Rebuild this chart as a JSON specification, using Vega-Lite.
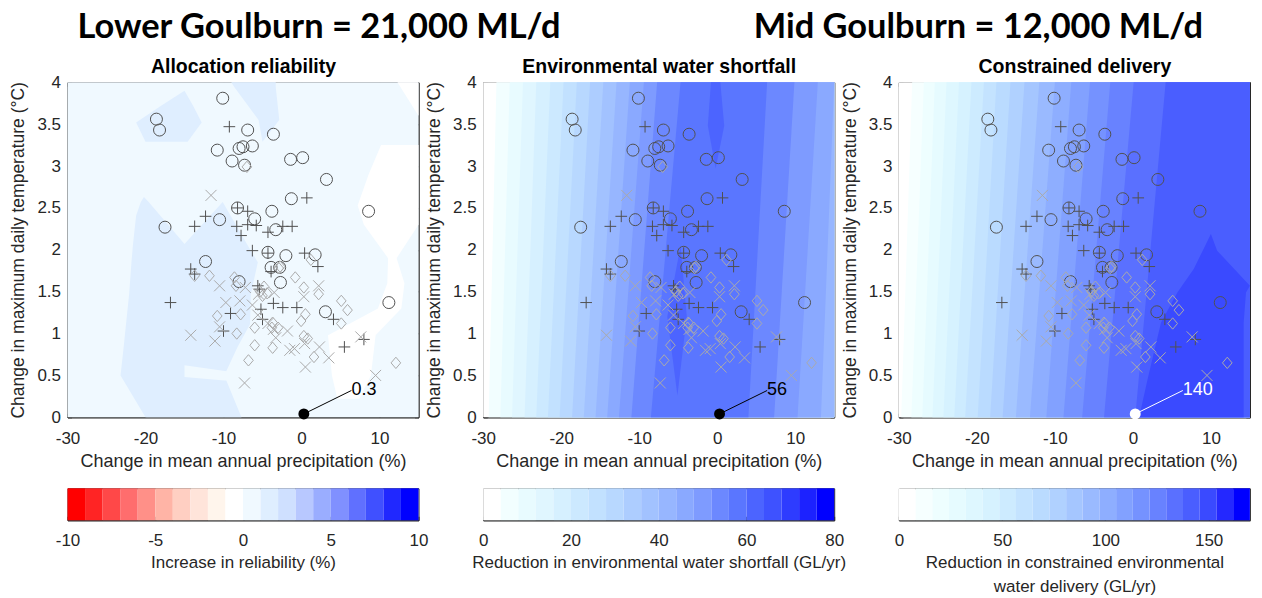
{
"$schema": "https://vega.github.io/schema/vega-lite/v6.json",
"padding": {"left": 8.5, "top": 9.3, "right": 5, "bottom": 2},
"bounds": "flush",
"columns": 3,
"align": "each",
"spacing": {"row": 71, "column": 64.7},
"resolve": {"scale": {"color": "independent", "stroke": "independent", "shape": "independent", "size": "independent"}},
"config": {
  "font": "Liberation Sans",
  "view": {"stroke": "#262626", "strokeWidth": 1},
  "axis": {"labelFont": "Liberation Sans", "titleFont": "Liberation Sans", "labelColor": "#262626", "titleColor": "#262626", "titleFontWeight": "normal", "grid": false, "domainColor": "#262626", "tickColor": "#262626", "labelFontSize": 17, "titleFontSize": 18, "labelFlush": false, "labelOverlap": false}
},
"datasets": {
  "pts": [
    {"x":-18.6,"y":3.56,"t":"c"},{"x":-18.2,"y":3.43,"t":"c"},{"x":-10.1,"y":3.81,"t":"c"},{"x":-6.9,"y":3.43,"t":"c"},{"x":-3.6,"y":3.38,"t":"c"},{"x":-10.8,"y":3.19,"t":"c"},{"x":-8.0,"y":3.21,"t":"c"},{"x":-7.5,"y":3.23,"t":"c"},{"x":-6.3,"y":3.24,"t":"c"},{"x":-8.9,"y":3.06,"t":"c"},{"x":-7.3,"y":3.01,"t":"c"},{"x":-1.4,"y":3.08,"t":"c"},{"x":0.15,"y":3.10,"t":"c"},{"x":3.2,"y":2.84,"t":"c"},{"x":-1.3,"y":2.61,"t":"c"},{"x":8.6,"y":2.46,"t":"c"},{"x":-17.5,"y":2.27,"t":"c"},{"x":-10.5,"y":2.36,"t":"c"},{"x":-8.2,"y":2.50,"t":"c"},{"x":-6.0,"y":2.37,"t":"c"},{"x":-3.8,"y":2.46,"t":"c"},{"x":-3.3,"y":2.24,"t":"c"},{"x":-4.3,"y":1.97,"t":"c"},{"x":-2.0,"y":1.93,"t":"c"},{"x":1.75,"y":1.94,"t":"c"},{"x":-12.3,"y":1.86,"t":"c"},{"x":-3.9,"y":1.79,"t":"c"},{"x":-2.8,"y":1.79,"t":"c"},{"x":-2.7,"y":1.61,"t":"c"},{"x":-8.0,"y":1.62,"t":"c"},{"x":3.07,"y":1.26,"t":"c"},{"x":11.2,"y":1.37,"t":"c"},
    {"x":-9.25,"y":3.47,"t":"p"},{"x":0.68,"y":2.62,"t":"p"},{"x":-13.7,"y":2.28,"t":"p"},{"x":-12.3,"y":2.40,"t":"p"},{"x":-8.2,"y":2.50,"t":"p"},{"x":-6.9,"y":2.46,"t":"p"},{"x":-8.3,"y":2.28,"t":"p"},{"x":-6.9,"y":2.30,"t":"p"},{"x":-5.8,"y":2.29,"t":"p"},{"x":-7.75,"y":2.17,"t":"p"},{"x":-4.3,"y":2.21,"t":"p"},{"x":-2.4,"y":2.28,"t":"p"},{"x":-1.2,"y":2.28,"t":"p"},{"x":-6.3,"y":1.99,"t":"p"},{"x":-4.3,"y":1.96,"t":"p"},{"x":0.4,"y":1.96,"t":"p"},{"x":2.1,"y":1.80,"t":"p"},{"x":-14.2,"y":1.77,"t":"p"},{"x":-13.7,"y":1.71,"t":"p"},{"x":-16.8,"y":1.37,"t":"p"},{"x":-5.6,"y":1.57,"t":"p"},{"x":-5.4,"y":1.53,"t":"p"},{"x":-3.6,"y":1.36,"t":"p"},{"x":-2.4,"y":1.31,"t":"p"},{"x":-0.6,"y":1.31,"t":"p"},{"x":-5.2,"y":1.29,"t":"p"},{"x":-5.0,"y":1.17,"t":"p"},{"x":-9.1,"y":1.24,"t":"p"},{"x":-10.0,"y":1.03,"t":"p"},{"x":4.1,"y":1.17,"t":"p"},{"x":5.5,"y":0.84,"t":"p"},{"x":8.0,"y":0.93,"t":"p"},{"x":-3.9,"y":1.74,"t":"p"},
    {"x":-7.0,"y":2.99,"t":"d"},{"x":-13.7,"y":1.69,"t":"d"},{"x":-11.8,"y":1.69,"t":"d"},{"x":-8.6,"y":1.67,"t":"d"},{"x":-8.4,"y":1.57,"t":"d"},{"x":-2.75,"y":1.80,"t":"d"},{"x":-0.8,"y":1.67,"t":"d"},{"x":0.3,"y":1.55,"t":"d"},{"x":1.2,"y":1.88,"t":"d"},{"x":2.2,"y":1.47,"t":"d"},{"x":5.1,"y":1.39,"t":"d"},{"x":5.9,"y":1.28,"t":"d"},{"x":5.1,"y":1.12,"t":"d"},{"x":-10.8,"y":1.21,"t":"d"},{"x":-7.8,"y":1.23,"t":"d"},{"x":-8.3,"y":1.0,"t":"d"},{"x":-6.0,"y":1.07,"t":"d"},{"x":-6.0,"y":0.86,"t":"d"},{"x":-6.8,"y":0.68,"t":"d"},{"x":-3.8,"y":1.07,"t":"d"},{"x":-3.0,"y":1.07,"t":"d"},{"x":-3.7,"y":0.83,"t":"d"},{"x":-0.05,"y":1.15,"t":"d"},{"x":0.5,"y":1.23,"t":"d"},{"x":0.3,"y":0.97,"t":"d"},{"x":0.8,"y":0.94,"t":"d"},{"x":1.6,"y":0.72,"t":"d"},{"x":12.1,"y":0.65,"t":"d"},{"x":-4.8,"y":1.56,"t":"d"},{"x":-4.4,"y":1.48,"t":"d"},{"x":-5.0,"y":1.45,"t":"d"},{"x":-3.7,"y":1.13,"t":"d"},{"x":-2.9,"y":1.78,"t":"d"},{"x":-5.3,"y":1.50,"t":"d"},
    {"x":-11.6,"y":2.65,"t":"x"},{"x":-14.2,"y":0.98,"t":"x"},{"x":-11.1,"y":0.91,"t":"x"},{"x":-10.5,"y":1.57,"t":"x"},{"x":-9.7,"y":1.37,"t":"x"},{"x":-7.9,"y":1.39,"t":"x"},{"x":-7.2,"y":1.55,"t":"x"},{"x":-6.3,"y":1.34,"t":"x"},{"x":-5.6,"y":1.22,"t":"x"},{"x":-3.5,"y":1.49,"t":"x"},{"x":-1.8,"y":1.03,"t":"x"},{"x":-0.9,"y":0.82,"t":"x"},{"x":0.4,"y":0.88,"t":"x"},{"x":0.5,"y":0.60,"t":"x"},{"x":2.2,"y":1.57,"t":"x"},{"x":2.3,"y":0.84,"t":"x"},{"x":3.5,"y":0.71,"t":"x"},{"x":7.6,"y":0.96,"t":"x"},{"x":9.5,"y":0.50,"t":"x"},{"x":-7.3,"y":0.41,"t":"x"},{"x":-3.3,"y":0.95,"t":"x"},{"x":-3.6,"y":1.05,"t":"x"},{"x":0.3,"y":1.44,"t":"x"},{"x":-4.3,"y":1.12,"t":"x"},{"x":-1.5,"y":0.80,"t":"x"},{"x":-5.5,"y":1.47,"t":"x"},{"x":-10.5,"y":1.08,"t":"x"}
  ],
  "bg1": [
    {"g":"base","lev":0,"y":0,"xl":-30,"xr":15},{"g":"base","lev":0,"y":4,"xl":-30,"xr":15},
    {"g":"A","lev":1,"y":3.29,"xl":-20.0,"xr":-14.6},{"g":"A","lev":1,"y":3.52,"xl":-21.2,"xr":-12.8},{"g":"A","lev":1,"y":3.72,"xl":-18.0,"xr":-13.9},{"g":"A","lev":1,"y":3.90,"xl":-15.0,"xr":-15.0},
    {"g":"B","lev":1,"y":3.29,"xl":-5.0,"xr":-5.0},{"g":"B","lev":1,"y":3.55,"xl":-5.5,"xr":-2.85},{"g":"B","lev":1,"y":3.94,"xl":-8.6,"xr":-3.3},{"g":"B","lev":1,"y":4.0,"xl":-9.0,"xr":-3.3},
    {"g":"C","lev":1,"y":0,"xl":-20.0,"xr":-7.7},{"g":"C","lev":1,"y":0.5,"xl":-23.2,"xr":-9.9},{"g":"C","lev":1,"y":0.84,"xl":-22.8,"xr":-8.2},{"g":"C","lev":1,"y":1.11,"xl":-22.5,"xr":-6.6},{"g":"C","lev":1,"y":1.47,"xl":-22.1,"xr":-6.5},{"g":"C","lev":1,"y":1.85,"xl":-21.8,"xr":-5.6},{"g":"C","lev":1,"y":2.07,"xl":-21.6,"xr":-7.0},{"g":"C","lev":1,"y":2.41,"xl":-21.2,"xr":-9.1},{"g":"C","lev":1,"y":2.57,"xl":-20.6,"xr":-10.1},{"g":"C","lev":1,"y":2.63,"xl":-20.2,"xr":-20.2},
    {"g":"N","lev":0,"y":2.07,"xl":-15.0,"xr":-15.0},{"g":"N","lev":0,"y":2.57,"xl":-19.6,"xr":-10.1},{"g":"N","lev":0,"y":2.66,"xl":-20.5,"xr":-9.6},
    {"g":"T","lev":0,"y":0.44,"xl":-9.9,"xr":-9.5},{"g":"T","lev":0,"y":0.48,"xl":-15.0,"xr":-9.5},{"g":"T","lev":0,"y":0.55,"xl":-15.0,"xr":-9.6},{"g":"T","lev":0,"y":0.62,"xl":-15.0,"xr":-15.0},
    {"g":"D","lev":-1,"y":0.22,"xl":4.6,"xr":7.4},{"g":"D","lev":-1,"y":0.5,"xl":3.9,"xr":8.9},{"g":"D","lev":-1,"y":0.98,"xl":3.4,"xr":9.5},{"g":"D","lev":-1,"y":1.3,"xl":9.8,"xr":12.8},{"g":"D","lev":-1,"y":1.6,"xl":11.0,"xr":13.2},{"g":"D","lev":-1,"y":1.9,"xl":11.1,"xr":12.2},{"g":"D","lev":-1,"y":2.3,"xl":8.0,"xr":15},{"g":"D","lev":-1,"y":2.53,"xl":7.2,"xr":15},{"g":"D","lev":-1,"y":2.9,"xl":8.6,"xr":15},{"g":"D","lev":-1,"y":3.25,"xl":10.2,"xr":15},
    {"g":"E","lev":-1,"y":3.6,"xl":15,"xr":15},{"g":"E","lev":-1,"y":4.0,"xl":12.3,"xr":15}
  ],
  "bg2": [
    {"g":"k0","lev":0,"y":0,"xl":-30,"xr":15},{"g":"k0","lev":0,"y":4,"xl":-30,"xr":15},
    {"g":"k1","lev":1,"y":0,"xl":-29.3,"xr":15},{"g":"k1","lev":1,"y":4,"xl":-28.3,"xr":15},
    {"g":"k2","lev":2,"y":0,"xl":-27.8,"xr":15},{"g":"k2","lev":2,"y":4,"xl":-26.6,"xr":15},
    {"g":"k3","lev":3,"y":0,"xl":-26.3,"xr":15},{"g":"k3","lev":3,"y":4,"xl":-24.9,"xr":15},
    {"g":"k4","lev":4,"y":0,"xl":-24.7,"xr":15},{"g":"k4","lev":4,"y":4,"xl":-23.2,"xr":15},
    {"g":"k5","lev":5,"y":0,"xl":-23.2,"xr":15},{"g":"k5","lev":5,"y":4,"xl":-21.4,"xr":15},
    {"g":"k6","lev":6,"y":0,"xl":-21.7,"xr":15},{"g":"k6","lev":6,"y":4,"xl":-19.7,"xr":15},
    {"g":"k7","lev":7,"y":0,"xl":-20.2,"xr":15},{"g":"k7","lev":7,"y":4,"xl":-18.0,"xr":15},
    {"g":"k8","lev":8,"y":0,"xl":-18.6,"xr":15},{"g":"k8","lev":8,"y":4,"xl":-16.3,"xr":15},
    {"g":"k9","lev":9,"y":0,"xl":-17.1,"xr":15},{"g":"k9","lev":9,"y":4,"xl":-14.6,"xr":15},
    {"g":"k10","lev":10,"y":0,"xl":-15.6,"xr":15},{"g":"k10","lev":10,"y":4,"xl":-12.9,"xr":15},
    {"g":"k11","lev":11,"y":0,"xl":-14.1,"xr":13.3},{"g":"k11","lev":11,"y":4,"xl":-11.2,"xr":15},
    {"g":"k12","lev":12,"y":0,"xl":-12.6,"xr":10.3},{"g":"k12","lev":12,"y":4,"xl":-9.4,"xr":12.9},
    {"g":"k13","lev":13,"y":0,"xl":-11.0,"xr":7.3},{"g":"k13","lev":13,"y":4,"xl":-7.7,"xr":9.9},
    {"g":"k14","lev":14,"y":0,"xl":-8.5,"xr":4.0},{"g":"k14","lev":14,"y":4,"xl":-4.7,"xr":6.4},
    {"g":"k15a","lev":15,"y":0.26,"xl":-5.1,"xr":-5.1},{"g":"k15a","lev":15,"y":1.2,"xl":-6.4,"xr":-3.9},{"g":"k15a","lev":15,"y":2.05,"xl":-4.7,"xr":-4.7},
    {"g":"k15b","lev":15,"y":2.97,"xl":-0.2,"xr":-0.2},{"g":"k15b","lev":15,"y":3.48,"xl":-1.2,"xr":0.9},{"g":"k15b","lev":15,"y":4.0,"xl":-0.8,"xr":0.4}
  ],
  "bg3": [
    {"g":"k0","lev":0,"y":0,"xl":-30,"xr":15},{"g":"k0","lev":0,"y":4,"xl":-30,"xr":15},
    {"g":"k1","lev":1,"y":0,"xl":-29.7,"xr":15},{"g":"k1","lev":1,"y":4,"xl":-28.3,"xr":15},
    {"g":"k2","lev":2,"y":0,"xl":-28.4,"xr":15},{"g":"k2","lev":2,"y":4,"xl":-26.8,"xr":15},
    {"g":"k3","lev":3,"y":0,"xl":-27.0,"xr":15},{"g":"k3","lev":3,"y":4,"xl":-25.4,"xr":15},
    {"g":"k4","lev":4,"y":0,"xl":-25.7,"xr":15},{"g":"k4","lev":4,"y":4,"xl":-23.9,"xr":15},
    {"g":"k5","lev":5,"y":0,"xl":-24.3,"xr":15},{"g":"k5","lev":5,"y":4,"xl":-22.3,"xr":15},
    {"g":"k6","lev":6,"y":0,"xl":-22.9,"xr":15},{"g":"k6","lev":6,"y":4,"xl":-20.7,"xr":15},
    {"g":"k7","lev":7,"y":0,"xl":-21.5,"xr":15},{"g":"k7","lev":7,"y":4,"xl":-19.1,"xr":15},
    {"g":"k8","lev":8,"y":0,"xl":-19.9,"xr":15},{"g":"k8","lev":8,"y":4,"xl":-17.5,"xr":15},
    {"g":"k9","lev":9,"y":0,"xl":-18.3,"xr":15},{"g":"k9","lev":9,"y":4,"xl":-15.7,"xr":15},
    {"g":"k10","lev":10,"y":0,"xl":-16.7,"xr":15},{"g":"k10","lev":10,"y":4,"xl":-13.9,"xr":15},
    {"g":"k11","lev":11,"y":0,"xl":-15.0,"xr":15},{"g":"k11","lev":11,"y":4,"xl":-12.0,"xr":15},
    {"g":"k12","lev":12,"y":0,"xl":-13.2,"xr":15},{"g":"k12","lev":12,"y":4,"xl":-10.0,"xr":15},
    {"g":"k13","lev":13,"y":0,"xl":-11.1,"xr":15},{"g":"k13","lev":13,"y":4,"xl":-7.9,"xr":15},
    {"g":"k14","lev":14,"y":0,"xl":-8.9,"xr":15},{"g":"k14","lev":14,"y":4,"xl":-5.5,"xr":15},
    {"g":"k15","lev":15,"y":0,"xl":-6.5,"xr":15},{"g":"k15","lev":15,"y":4,"xl":-2.9,"xr":15},
    {"g":"k16","lev":16,"y":0,"xl":-3.7,"xr":15},{"g":"k16","lev":16,"y":4,"xl":0.1,"xr":15},
    {"g":"k17","lev":17,"y":0,"xl":0.3,"xr":15},{"g":"k17","lev":17,"y":4,"xl":4.2,"xr":15},
    {"g":"k18","lev":18,"y":0,"xl":0.8,"xr":14.2},{"g":"k18","lev":18,"y":0.46,"xl":1.9,"xr":14.2},{"g":"k18","lev":18,"y":1.13,"xl":3.6,"xr":14.2},{"g":"k18","lev":18,"y":1.49,"xl":5.7,"xr":14.5},{"g":"k18","lev":18,"y":1.57,"xl":6.3,"xr":15},{"g":"k18","lev":18,"y":1.77,"xl":7.8,"xr":13.0},{"g":"k18","lev":18,"y":1.99,"xl":8.95,"xr":10.8},{"g":"k18","lev":18,"y":2.19,"xl":10.0,"xr":10.0}
  ]
},
"concat": [
 {
  "width": 351, "height": 335,
  "title": {"text": "Lower Goulburn = 21,000 ML/d", "frame": "group", "anchor": "middle", "dx": 76, "fontSize": 34.4, "font": "Lato", "fontWeight": "bold", "color": "#000000", "offset": 11},
  "resolve": {"axis": {"x": "independent", "y": "independent"}},
  "layer": [
   {"data": {"name": "bg1"},
    "mark": {"type": "area", "orient": "horizontal", "opacity": 1},
    "encoding": {
      "y": {"field": "y", "type": "quantitative", "scale": {"domain": [0, 4], "nice": false, "zero": false}, "axis": {"orient": "left", "values": [0,0.5,1,1.5,2,2.5,3,3.5,4], "labelExpr": "'' + datum.value", "tickSize": -4, "labelPadding": 11, "title": "Change in maximum daily temperature (°C)", "titleFontSize": 17.5, "titlePadding": 9}},
      "x": {"field": "xl", "type": "quantitative", "stack": null, "scale": {"domain": [-30, 15], "nice": false, "zero": false}, "axis": {"orient": "bottom", "values": [-30,-20,-10,0,10], "labelExpr": "'' + datum.value", "tickSize": -4, "labelPadding": 17.5, "title": "Change in mean annual precipitation (%)", "titlePadding": 5.5}},
      "x2": {"field": "xr"},
      "detail": {"field": "g", "type": "nominal"},
      "color": {"field": "lev", "type": "ordinal", "legend": null, "scale": {"domain": [-10,-9,-8,-7,-6,-5,-4,-3,-2,-1,0,1,2,3,4,5,6,7,8,9], "range": ["#ff0000","#ff2424","#ff4848","#ff6d6d","#ff9088","#ffb4a6","#ffcfc2","#ffe4da","#fff5ec","#ffffff","#f0f9ff","#dfeeff","#cfe0ff","#b8c8ff","#9aadff","#8090ff","#6070ff","#4050ff","#2028ff","#0000ff"]}}
    }},
   {"data": {"name": "pts"},
    "mark": {"type": "point", "filled": false, "opacity": 1, "strokeWidth": 1},
    "encoding": {
      "x": {"field": "x", "type": "quantitative", "scale": {"domain": [-30, 15], "nice": false, "zero": false}, "axis": {"orient": "top", "values": [-30,-20,-10,0,10], "labels": false, "tickSize": -4, "title": "Allocation reliability", "titleFontWeight": "bold", "titleFontSize": 19.5, "titleColor": "#000000", "titlePadding": 5}},
      "y": {"field": "y", "type": "quantitative", "scale": {"domain": [0, 4], "nice": false, "zero": false}, "axis": {"orient": "right", "values": [0,0.5,1,1.5,2,2.5,3,3.5,4], "labels": false, "tickSize": -4, "title": null}},
      "shape": {"field": "t", "type": "nominal", "legend": null, "scale": {"domain": ["c","p","d","x"], "range": ["circle", "M-1,0L1,0M0,-1L0,1", "M0,-1L0.85,0L0,1L-0.85,0Z", "M-1,-1L1,1M-1,1L1,-1"]}},
      "stroke": {"field": "t", "type": "nominal", "legend": null, "scale": {"domain": ["c","p","d","x"], "range": ["#505050","#505050","#aaaaaa","#aaaaaa"]}},
      "size": {"field": "t", "type": "ordinal", "legend": null, "scale": {"domain": ["c","p","d","x"], "range": [144, 121, 121, 64]}}
    }},
   {"data": {"values": [{"x": 0.3, "y": 0.04, "lx": 6.4, "ly": 0.32, "label": "0.3"}]},
    "layer": [
      {"mark": {"type": "rule", "color": "#000000", "strokeWidth": 1},
       "encoding": {"x": {"field": "x", "type": "quantitative", "scale": {"domain": [-30, 15], "nice": false, "zero": false}, "axis": null}, "y": {"field": "y", "type": "quantitative", "scale": {"domain": [0, 4], "nice": false, "zero": false}, "axis": null}, "x2": {"field": "lx"}, "y2": {"field": "ly"}}},
      {"mark": {"type": "point", "filled": true, "size": 120, "color": "#000000", "opacity": 1},
       "encoding": {"x": {"field": "x", "type": "quantitative", "axis": null}, "y": {"field": "y", "type": "quantitative", "axis": null}}},
      {"mark": {"type": "text", "align": "left", "baseline": "middle", "fontSize": 18, "color": "#000000"},
       "encoding": {"x": {"field": "lx", "type": "quantitative", "axis": null}, "y": {"field": "ly", "type": "quantitative", "axis": null}, "text": {"field": "label"}}}
    ]}
  ]
 },
 {
  "width": 351, "height": 335,
  "resolve": {"axis": {"x": "independent", "y": "independent"}},
  "layer": [
   {"data": {"name": "bg2"},
    "mark": {"type": "area", "orient": "horizontal", "opacity": 1},
    "encoding": {
      "y": {"field": "y", "type": "quantitative", "scale": {"domain": [0, 4], "nice": false, "zero": false}, "axis": {"orient": "left", "values": [0,0.5,1,1.5,2,2.5,3,3.5,4], "labelExpr": "'' + datum.value", "tickSize": -4, "labelPadding": 11, "title": "Change in maximum daily temperature (°C)", "titleFontSize": 17.5, "titlePadding": 9}},
      "x": {"field": "xl", "type": "quantitative", "stack": null, "scale": {"domain": [-30, 15], "nice": false, "zero": false}, "axis": {"orient": "bottom", "values": [-30,-20,-10,0,10], "labelExpr": "'' + datum.value", "tickSize": -4, "labelPadding": 17.5, "title": "Change in mean annual precipitation (%)", "titlePadding": 5.5}},
      "x2": {"field": "xr"},
      "detail": {"field": "g", "type": "nominal"},
      "color": {"field": "lev", "type": "ordinal", "legend": null, "scale": {"domain": [0,1,2,3,4,5,6,7,8,9,10,11,12,13,14,15,16,17,18,19], "range": ["#ffffff","#f2feff","#e8fbff","#e0f6ff","#d6f0ff","#cce9ff","#c2e1ff","#b8d8ff","#adcdff","#a2c2ff","#97b6ff","#8aa9ff","#7e9bff","#6c88ff","#5a76ff","#4c64ff","#3e52ff","#2e3cff","#1c22ff","#0000ff"]}}
    }},
   {"data": {"name": "pts"},
    "mark": {"type": "point", "filled": false, "opacity": 1, "strokeWidth": 1},
    "encoding": {
      "x": {"field": "x", "type": "quantitative", "scale": {"domain": [-30, 15], "nice": false, "zero": false}, "axis": {"orient": "top", "values": [-30,-20,-10,0,10], "labels": false, "tickSize": -4, "title": "Environmental water shortfall", "titleFontWeight": "bold", "titleFontSize": 19.5, "titleColor": "#000000", "titlePadding": 5}},
      "y": {"field": "y", "type": "quantitative", "scale": {"domain": [0, 4], "nice": false, "zero": false}, "axis": {"orient": "right", "values": [0,0.5,1,1.5,2,2.5,3,3.5,4], "labels": false, "tickSize": -4, "title": null}},
      "shape": {"field": "t", "type": "nominal", "legend": null, "scale": {"domain": ["c","p","d","x"], "range": ["circle", "M-1,0L1,0M0,-1L0,1", "M0,-1L0.85,0L0,1L-0.85,0Z", "M-1,-1L1,1M-1,1L1,-1"]}},
      "stroke": {"field": "t", "type": "nominal", "legend": null, "scale": {"domain": ["c","p","d","x"], "range": ["#505050","#505050","#aaaaaa","#aaaaaa"]}},
      "size": {"field": "t", "type": "ordinal", "legend": null, "scale": {"domain": ["c","p","d","x"], "range": [144, 121, 121, 64]}}
    }},
   {"data": {"values": [{"x": 0.3, "y": 0.04, "lx": 6.4, "ly": 0.32, "label": "56"}]},
    "layer": [
      {"mark": {"type": "rule", "color": "#000000", "strokeWidth": 1},
       "encoding": {"x": {"field": "x", "type": "quantitative", "scale": {"domain": [-30, 15], "nice": false, "zero": false}, "axis": null}, "y": {"field": "y", "type": "quantitative", "scale": {"domain": [0, 4], "nice": false, "zero": false}, "axis": null}, "x2": {"field": "lx"}, "y2": {"field": "ly"}}},
      {"mark": {"type": "point", "filled": true, "size": 120, "color": "#000000", "opacity": 1},
       "encoding": {"x": {"field": "x", "type": "quantitative", "axis": null}, "y": {"field": "y", "type": "quantitative", "axis": null}}},
      {"mark": {"type": "text", "align": "left", "baseline": "middle", "fontSize": 18, "color": "#000000"},
       "encoding": {"x": {"field": "lx", "type": "quantitative", "axis": null}, "y": {"field": "ly", "type": "quantitative", "axis": null}, "text": {"field": "label"}}}
    ]}
  ]
 },
 {
  "width": 351, "height": 335,
  "title": {"text": "Mid Goulburn = 12,000 ML/d", "frame": "group", "anchor": "middle", "dx": -96, "fontSize": 34.4, "font": "Lato", "fontWeight": "bold", "color": "#000000", "offset": 11},
  "resolve": {"axis": {"x": "independent", "y": "independent"}},
  "layer": [
   {"data": {"name": "bg3"},
    "mark": {"type": "area", "orient": "horizontal", "opacity": 1},
    "encoding": {
      "y": {"field": "y", "type": "quantitative", "scale": {"domain": [0, 4], "nice": false, "zero": false}, "axis": {"orient": "left", "values": [0,0.5,1,1.5,2,2.5,3,3.5,4], "labelExpr": "'' + datum.value", "tickSize": -4, "labelPadding": 11, "title": "Change in maximum daily temperature (°C)", "titleFontSize": 17.5, "titlePadding": 9}},
      "x": {"field": "xl", "type": "quantitative", "stack": null, "scale": {"domain": [-30, 15], "nice": false, "zero": false}, "axis": {"orient": "bottom", "values": [-30,-20,-10,0,10], "labelExpr": "'' + datum.value", "tickSize": -4, "labelPadding": 17.5, "title": "Change in mean annual precipitation (%)", "titlePadding": 5.5}},
      "x2": {"field": "xr"},
      "detail": {"field": "g", "type": "nominal"},
      "color": {"field": "lev", "type": "ordinal", "legend": null, "scale": {"domain": [0,1,2,3,4,5,6,7,8,9,10,11,12,13,14,15,16,17,18,19,20], "range": ["#ffffff","#f6ffff","#eefeff","#e6fbff","#def7ff","#d6f2ff","#cdebff","#c4e3ff","#badbff","#b0d1ff","#a5c6ff","#9abaff","#8eaeff","#82a1ff","#7592ff","#6882ff","#5a70ff","#4a5eff","#3a4aff","#2428ff","#0000ff"]}}
    }},
   {"data": {"name": "pts"},
    "mark": {"type": "point", "filled": false, "opacity": 1, "strokeWidth": 1},
    "encoding": {
      "x": {"field": "x", "type": "quantitative", "scale": {"domain": [-30, 15], "nice": false, "zero": false}, "axis": {"orient": "top", "values": [-30,-20,-10,0,10], "labels": false, "tickSize": -4, "title": "Constrained delivery", "titleFontWeight": "bold", "titleFontSize": 19.5, "titleColor": "#000000", "titlePadding": 5}},
      "y": {"field": "y", "type": "quantitative", "scale": {"domain": [0, 4], "nice": false, "zero": false}, "axis": {"orient": "right", "values": [0,0.5,1,1.5,2,2.5,3,3.5,4], "labels": false, "tickSize": -4, "title": null}},
      "shape": {"field": "t", "type": "nominal", "legend": null, "scale": {"domain": ["c","p","d","x"], "range": ["circle", "M-1,0L1,0M0,-1L0,1", "M0,-1L0.85,0L0,1L-0.85,0Z", "M-1,-1L1,1M-1,1L1,-1"]}},
      "stroke": {"field": "t", "type": "nominal", "legend": null, "scale": {"domain": ["c","p","d","x"], "range": ["#505050","#505050","#aaaaaa","#aaaaaa"]}},
      "size": {"field": "t", "type": "ordinal", "legend": null, "scale": {"domain": ["c","p","d","x"], "range": [144, 121, 121, 64]}}
    }},
   {"data": {"values": [{"x": 0.3, "y": 0.04, "lx": 6.4, "ly": 0.32, "label": "140"}]},
    "layer": [
      {"mark": {"type": "rule", "color": "#ffffff", "strokeWidth": 1},
       "encoding": {"x": {"field": "x", "type": "quantitative", "scale": {"domain": [-30, 15], "nice": false, "zero": false}, "axis": null}, "y": {"field": "y", "type": "quantitative", "scale": {"domain": [0, 4], "nice": false, "zero": false}, "axis": null}, "x2": {"field": "lx"}, "y2": {"field": "ly"}}},
      {"mark": {"type": "point", "filled": true, "size": 120, "color": "#ffffff", "opacity": 1},
       "encoding": {"x": {"field": "x", "type": "quantitative", "axis": null}, "y": {"field": "y", "type": "quantitative", "axis": null}}},
      {"mark": {"type": "text", "align": "left", "baseline": "middle", "fontSize": 18, "color": "#ffffff"},
       "encoding": {"x": {"field": "lx", "type": "quantitative", "axis": null}, "y": {"field": "ly", "type": "quantitative", "axis": null}, "text": {"field": "label"}}}
    ]}
  ]
 },
 {
  "width": 351, "height": 32,
  "data": {"values": [{"k":-10,"v0":-10,"v1":-9},{"k":-9,"v0":-9,"v1":-8},{"k":-8,"v0":-8,"v1":-7},{"k":-7,"v0":-7,"v1":-6},{"k":-6,"v0":-6,"v1":-5},{"k":-5,"v0":-5,"v1":-4},{"k":-4,"v0":-4,"v1":-3},{"k":-3,"v0":-3,"v1":-2},{"k":-2,"v0":-2,"v1":-1},{"k":-1,"v0":-1,"v1":0},{"k":0,"v0":0,"v1":1},{"k":1,"v0":1,"v1":2},{"k":2,"v0":2,"v1":3},{"k":3,"v0":3,"v1":4},{"k":4,"v0":4,"v1":5},{"k":5,"v0":5,"v1":6},{"k":6,"v0":6,"v1":7},{"k":7,"v0":7,"v1":8},{"k":8,"v0":8,"v1":9},{"k":9,"v0":9,"v1":10}]},
  "mark": {"type": "rect"},
  "encoding": {
    "x": {"field": "v0", "type": "quantitative", "scale": {"domain": [-10, 10], "nice": false, "zero": false}, "axis": {"values": [-10,-5,0,5,10], "labelExpr": "'' + datum.value", "tickSize": -4, "labelPadding": 16, "labelFontSize": 17, "title": "Increase in reliability (%)", "titleFontSize": 17, "titlePadding": 6}},
    "x2": {"field": "v1"},
    "color": {"field": "k", "type": "ordinal", "legend": null, "scale": {"domain": [-10,-9,-8,-7,-6,-5,-4,-3,-2,-1,0,1,2,3,4,5,6,7,8,9], "range": ["#ff0000","#ff2424","#ff4848","#ff6d6d","#ff9088","#ffb4a6","#ffcfc2","#ffe4da","#fff5ec","#ffffff","#f0f9ff","#dfeeff","#cfe0ff","#b8c8ff","#9aadff","#8090ff","#6070ff","#4050ff","#2028ff","#0000ff"]}}
  }
 },
 {
  "width": 351, "height": 32,
  "data": {"values": [{"k":0,"v0":0,"v1":4},{"k":1,"v0":4,"v1":8},{"k":2,"v0":8,"v1":12},{"k":3,"v0":12,"v1":16},{"k":4,"v0":16,"v1":20},{"k":5,"v0":20,"v1":24},{"k":6,"v0":24,"v1":28},{"k":7,"v0":28,"v1":32},{"k":8,"v0":32,"v1":36},{"k":9,"v0":36,"v1":40},{"k":10,"v0":40,"v1":44},{"k":11,"v0":44,"v1":48},{"k":12,"v0":48,"v1":52},{"k":13,"v0":52,"v1":56},{"k":14,"v0":56,"v1":60},{"k":15,"v0":60,"v1":64},{"k":16,"v0":64,"v1":68},{"k":17,"v0":68,"v1":72},{"k":18,"v0":72,"v1":76},{"k":19,"v0":76,"v1":80}]},
  "mark": {"type": "rect"},
  "encoding": {
    "x": {"field": "v0", "type": "quantitative", "scale": {"domain": [0, 80], "nice": false, "zero": false}, "axis": {"values": [0,20,40,60,80], "labelExpr": "'' + datum.value", "tickSize": -4, "labelPadding": 16, "labelFontSize": 17, "title": "Reduction in environmental water shortfall (GL/yr)", "titleFontSize": 17, "titlePadding": 6}},
    "x2": {"field": "v1"},
    "color": {"field": "k", "type": "ordinal", "legend": null, "scale": {"domain": [0,1,2,3,4,5,6,7,8,9,10,11,12,13,14,15,16,17,18,19], "range": ["#ffffff","#f2feff","#e8fbff","#e0f6ff","#d6f0ff","#cce9ff","#c2e1ff","#b8d8ff","#adcdff","#a2c2ff","#97b6ff","#8aa9ff","#7e9bff","#6c88ff","#5a76ff","#4c64ff","#3e52ff","#2e3cff","#1c22ff","#0000ff"]}}
  }
 },
 {
  "width": 351, "height": 32,
  "data": {"values": [{"k":0,"v0":0,"v1":8.1},{"k":1,"v0":8.1,"v1":16.2},{"k":2,"v0":16.2,"v1":24.3},{"k":3,"v0":24.3,"v1":32.4},{"k":4,"v0":32.4,"v1":40.5},{"k":5,"v0":40.5,"v1":48.6},{"k":6,"v0":48.6,"v1":56.7},{"k":7,"v0":56.7,"v1":64.8},{"k":8,"v0":64.8,"v1":72.9},{"k":9,"v0":72.9,"v1":81.0},{"k":10,"v0":81.0,"v1":89.0},{"k":11,"v0":89.0,"v1":97.1},{"k":12,"v0":97.1,"v1":105.2},{"k":13,"v0":105.2,"v1":113.3},{"k":14,"v0":113.3,"v1":121.4},{"k":15,"v0":121.4,"v1":129.5},{"k":16,"v0":129.5,"v1":137.6},{"k":17,"v0":137.6,"v1":145.7},{"k":18,"v0":145.7,"v1":153.8},{"k":19,"v0":153.8,"v1":161.9},{"k":20,"v0":161.9,"v1":170}]},
  "mark": {"type": "rect"},
  "encoding": {
    "x": {"field": "v0", "type": "quantitative", "scale": {"domain": [0, 170], "nice": false, "zero": false}, "axis": {"values": [0,50,100,150], "labelExpr": "'' + datum.value", "tickSize": -4, "labelPadding": 16, "labelFontSize": 17, "title": ["Reduction in constrained environmental", "water delivery (GL/yr)"], "titleFontSize": 17, "titleLineHeight": 24, "titlePadding": 6}},
    "x2": {"field": "v1"},
    "color": {"field": "k", "type": "ordinal", "legend": null, "scale": {"domain": [0,1,2,3,4,5,6,7,8,9,10,11,12,13,14,15,16,17,18,19,20], "range": ["#ffffff","#f6ffff","#eefeff","#e6fbff","#def7ff","#d6f2ff","#cdebff","#c4e3ff","#badbff","#b0d1ff","#a5c6ff","#9abaff","#8eaeff","#82a1ff","#7592ff","#6882ff","#5a70ff","#4a5eff","#3a4aff","#2428ff","#0000ff"]}}
  }
 }
]
}
